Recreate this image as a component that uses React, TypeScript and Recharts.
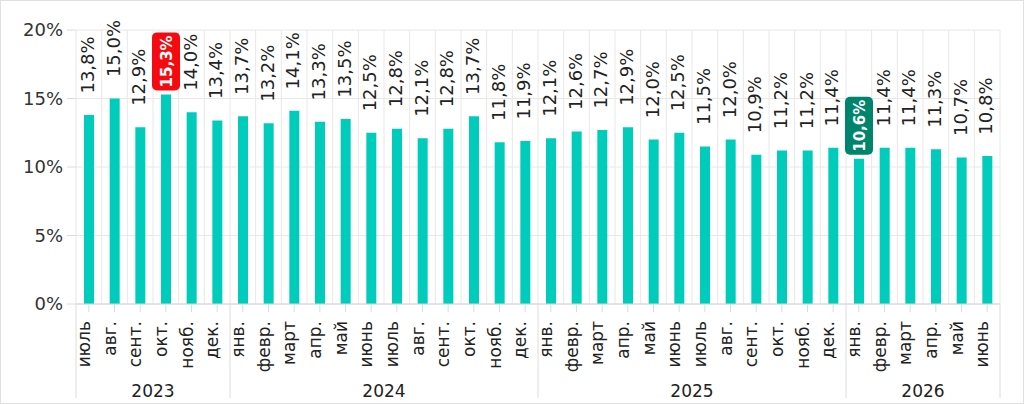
import React from 'react';
import { BarChart, Bar, XAxis, YAxis, CartesianGrid, LabelList } from 'recharts';

const months = [
  'июль', 'авг.', 'сент.', 'окт.', 'нояб.', 'дек.',
  'янв.', 'февр.', 'март', 'апр.', 'май', 'июнь', 'июль', 'авг.', 'сент.', 'окт.', 'нояб.', 'дек.',
  'янв.', 'февр.', 'март', 'апр.', 'май', 'июнь', 'июль', 'авг.', 'сент.', 'окт.', 'нояб.', 'дек.',
  'янв.', 'февр.', 'март', 'апр.', 'май', 'июнь',
];

const values = [
  13.8, 15.0, 12.9, 15.3, 14.0, 13.4,
  13.7, 13.2, 14.1, 13.3, 13.5, 12.5, 12.8, 12.1, 12.8, 13.7, 11.8, 11.9,
  12.1, 12.6, 12.7, 12.9, 12.0, 12.5, 11.5, 12.0, 10.9, 11.2, 11.2, 11.4,
  10.6, 11.4, 11.4, 11.3, 10.7, 10.8,
];

const years = ['2023', '2024', '2025', '2026'];
const yearMonthCounts = [6, 12, 12, 6];

const yTicks = [0, 5, 10, 15, 20];
const highlightIndex = [3, 30];
const highlightColors = ['#F50A0F', '#00856D'];

const FONT = '"DejaVu Sans", sans-serif';
const BAR_COLOR = '#00CCBB';
const MONTH_AXIS_H = 70;

const data = months.map((m, i) => ({ key: `m${i}`, month: m, value: values[i], pos: i + 0.5 }));

const gridTicks = months.map((_, i) => i).concat([months.length]);

const yearBoundaries: number[] = [0];
const yearCenters: number[] = [];
yearMonthCounts.reduce((acc, c) => {
  yearCenters.push(acc + c / 2);
  yearBoundaries.push(acc + c);
  return acc + c;
}, 0);
const yearTicks = [...yearBoundaries, ...yearCenters].sort((a, b) => a - b);

const fmt = (v: number) => v.toFixed(1).replace('.', ',') + '%';

const MonthTick = (props: any) => {
  const { x, y, index } = props;
  const ay = y + 7;
  return (
    <text
      x={x + 1}
      y={ay}
      transform={`rotate(-90 ${x + 1} ${ay})`}
      textAnchor="end"
      fontFamily={FONT}
      fontSize={17}
      fill="#222"
    >
      {months[index]}
    </text>
  );
};

const YearTick = (props: any) => {
  const { x, y, payload } = props;
  const v = payload.value;
  const bi = yearBoundaries.indexOf(v);
  if (bi >= 0) {
    return <line x1={x} x2={x} y1={y - MONTH_AXIS_H} y2={y + 24} stroke="#dcdcdc" strokeWidth={1} />;
  }
  const ci = yearCenters.indexOf(v);
  return (
    <text x={x} y={y + 23} textAnchor="middle" fontFamily={FONT} fontSize={17} fill="#222">
      {years[ci]}
    </text>
  );
};

const ValueLabel = (props: any) => {
  const { x, y, width, value, index } = props;
  const cx = x + width / 2;
  const hi = highlightIndex.indexOf(index);
  if (hi >= 0) {
    const cy = y - 33;
    return (
      <g>
        <rect x={cx - 14} y={cy - 29} width={28} height={58} rx={5} ry={5} fill={highlightColors[hi]} />
        <text
          x={cx + 6}
          y={cy}
          transform={`rotate(-90 ${cx + 6} ${cy})`}
          textAnchor="middle"
          fontFamily={FONT}
          fontWeight="bold"
          fontSize={15}
          fill="#fff"
        >
          {fmt(value)}
        </text>
      </g>
    );
  }
  const cy = y - 50;
  return (
    <text
      x={cx + 5}
      y={cy}
      transform={`rotate(-90 ${cx + 5} ${cy})`}
      textAnchor="middle"
      fontFamily={FONT}
      fontSize={18}
      fill="#222"
    >
      {fmt(value)}
    </text>
  );
};

export default function App() {
  return (
    <div style={{ position: 'absolute', left: 0, top: 0, width: 1024, height: 404, background: '#fff' }}>
      <BarChart
        width={1024}
        height={404}
        data={data}
        margin={{ top: 30, right: 24, bottom: 4, left: 0 }}
        barCategoryGap={0}
      >
        <CartesianGrid xAxisId="a_grid" stroke="#e8e8e8" />
        <XAxis
          xAxisId="a_grid"
          type="number"
          dataKey="pos"
          domain={[0, months.length]}
          ticks={gridTicks}
          interval={0}
          height={0}
          hide
        />
        <XAxis
          xAxisId="b_month"
          dataKey="key"
          interval={0}
          height={MONTH_AXIS_H}
          tickSize={8}
          tickMargin={2}
          tickLine={{ stroke: '#dcdcdc' }}
          axisLine={{ stroke: '#d4d4d4' }}
          tick={MonthTick}
        />
        <XAxis
          xAxisId="c_year"
          type="number"
          dataKey="pos"
          domain={[0, months.length]}
          ticks={yearTicks}
          interval={0}
          height={26}
          tickSize={0}
          tickMargin={0}
          axisLine={false}
          tickLine={false}
          tick={YearTick}
        />
        <YAxis
          domain={[0, 20]}
          ticks={yTicks}
          width={76}
          tickSize={9}
          tickMargin={4}
          axisLine={false}
          tickLine={{ stroke: '#dcdcdc' }}
          tickFormatter={(v: number) => `${v}%`}
          tick={{ fontFamily: FONT, fontSize: 18, fill: '#333' }}
        />
        <Bar xAxisId="b_month" dataKey="value" fill={BAR_COLOR} barSize={10} isAnimationActive={false}>
          <LabelList dataKey="value" content={ValueLabel} />
        </Bar>
      </BarChart>
      <div
        style={{
          position: 'absolute',
          left: 0,
          top: 0,
          width: 1024,
          height: 404,
          boxSizing: 'border-box',
          border: '1px solid #e0e0e0',
          pointerEvents: 'none',
        }}
      />
    </div>
  );
}
